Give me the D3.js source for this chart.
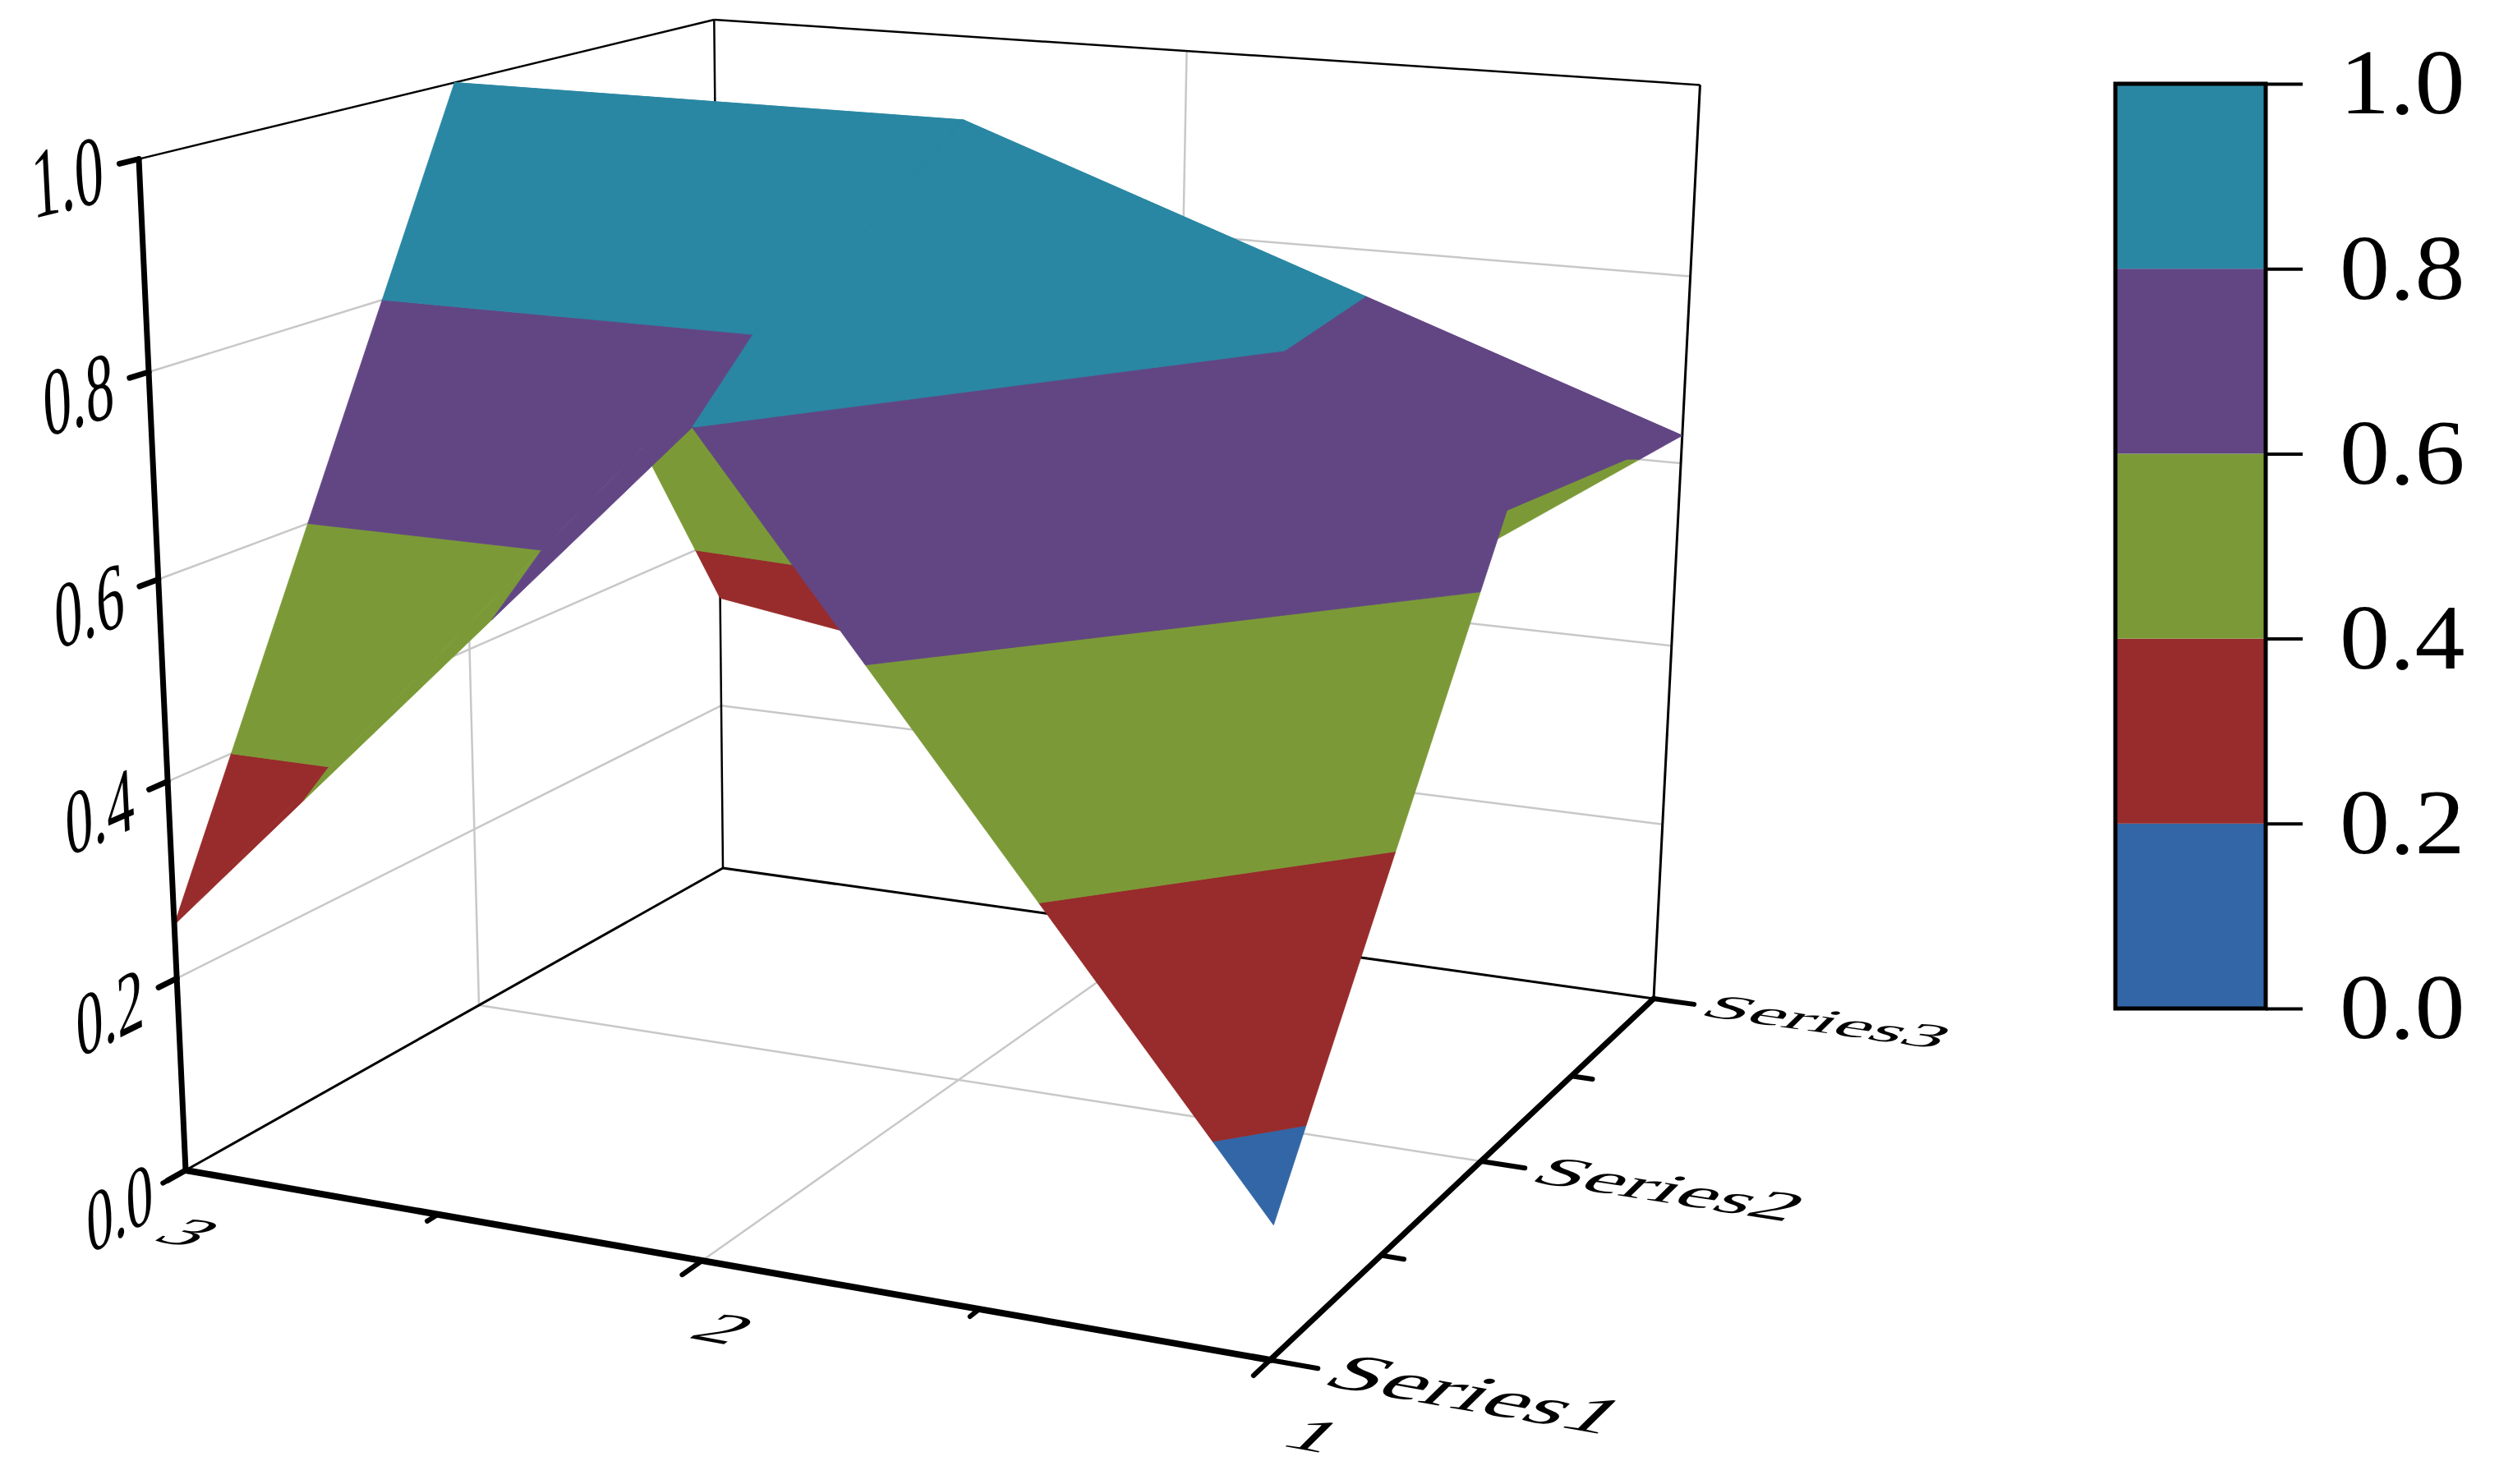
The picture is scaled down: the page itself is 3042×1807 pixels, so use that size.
<!DOCTYPE html>
<meta charset="utf-8">
<style>
body { margin: 0; background: #fff; }
text { font-family: "Liberation Serif", serif; fill: #000; }
</style>
<script src="https://d3js.org/d3.v7.min.js"></script>
<svg id="chart" width="3042" height="1807"></svg>
<script>
// surface values, one row per x (1, 2, 3), one column per series
var xValues = [1, 2, 3];
var seriesNames = ["Series1", "Series2", "Series3"];
var seriesValues = [1, 2, 3];
var zRow1 = [0.13, 0.665, 0.63];
var zRow2 = [0.80, 1.00, 0.25];
var zRow3 = [0.255, 1.00, 0.33];
var zRows = [zRow1, zRow2, zRow3];

var zTicks = [0, 0.2, 0.4, 0.6, 0.8, 1];
var bandColors = ["#3366a6", "#982b2b", "#7b9a37", "#624684", "#2a87a3"];

// where the box corners land on the page, used to fit the perspective
var floorA = [226, 1425], floorB = [1546, 1656], floorC = [2013, 1216], floorD = [880, 1057];
var topA = [170, 195], topC = [2070, 100], topD = [868, 26];

var svg = d3.select("#chart");

var xScale = d3.scaleLinear().domain([3, 1]).range([0, 1]);
var sScale = d3.scaleLinear().domain([1, 3]).range([0, 1]);

// square to quad, the floor of the box
function fitFloor(p0, p1, p2, p3) {
    var dx1 = p1[0] - p2[0], dx2 = p3[0] - p2[0], sx = p0[0] - p1[0] + p2[0] - p3[0];
    var dy1 = p1[1] - p2[1], dy2 = p3[1] - p2[1], sy = p0[1] - p1[1] + p2[1] - p3[1];
    var det = dx1 * dy2 - dx2 * dy1;
    var g = (sx * dy2 - dx2 * sy) / det;
    var h = (dx1 * sy - sx * dy1) / det;
    return {
        a: p1[0] - p0[0] + g * p1[0], b: p3[0] - p0[0] + h * p3[0], c: p0[0],
        d: p1[1] - p0[1] + g * p1[1], e: p3[1] - p0[1] + h * p3[1], f: p0[1],
        g: g, h: h
    };
}

var m = fitFloor(floorA, floorB, floorC, floorD);

// height column of the projection, least squares on the three top corners
var tops = [
    { u: 0, v: 0, pt: topA },
    { u: 1, v: 1, pt: topC },
    { u: 0, v: 1, pt: topD }
].map(function(t) {
    var w = m.g * t.u + m.h * t.v + 1;
    return {
        X: t.pt[0], Y: t.pt[1],
        A: t.pt[0] * w - (m.a * t.u + m.b * t.v + m.c),
        B: t.pt[1] * w - (m.d * t.u + m.e * t.v + m.f)
    };
});
var mX = d3.mean(tops, function(t) { return t.X; });
var mY = d3.mean(tops, function(t) { return t.Y; });
var mA = d3.mean(tops, function(t) { return t.A; });
var mB = d3.mean(tops, function(t) { return t.B; });
var r = -d3.sum(tops, function(t) { return (t.A - mA) * (t.X - mX) + (t.B - mB) * (t.Y - mY); }) /
    d3.sum(tops, function(t) { return (t.X - mX) * (t.X - mX) + (t.Y - mY) * (t.Y - mY); });
var p = mA + mX * r;
var q = mB + mY * r;

function project(pt) {
    var u = xScale(pt[0]), v = sScale(pt[1]), w = pt[2];
    var k = m.g * u + m.h * v + 1 + r * w;
    return [(m.a * u + m.b * v + m.c + p * w) / k, (m.d * u + m.e * v + m.f + q * w) / k];
}

function segment(g, from, to, color, width, cap) {
    var a = project(from), b = project(to);
    g.append("line")
        .attr("x1", a[0]).attr("y1", a[1])
        .attr("x2", b[0]).attr("y2", b[1])
        .attr("stroke", color)
        .attr("stroke-width", width)
        .attr("stroke-linecap", cap || "butt");
}

// text lying in a plane of the box
function planeText(g, text, origin, du, dv, anchor, baseY) {
    var o = project(origin);
    var a = project([origin[0] + du[0], origin[1] + du[1], origin[2] + du[2]]);
    var b = project([origin[0] + dv[0], origin[1] + dv[1], origin[2] + dv[2]]);
    g.append("text")
        .attr("font-size", 100)
        .attr("text-anchor", anchor)
        .attr("y", baseY)
        .attr("transform", "matrix(" + [(a[0] - o[0]) / 100, (a[1] - o[1]) / 100,
            (b[0] - o[0]) / 100, (b[1] - o[1]) / 100, o[0], o[1]].join(",") + ")")
        .text(text);
}

// gridlines on the two back walls and the floor
var grid = svg.append("g");
zTicks.slice(1, 5).forEach(function(z) {
    segment(grid, [3, 1, z], [3, 3, z], "#c8c8c8", 2.5);
    segment(grid, [3, 3, z], [1, 3, z], "#c8c8c8", 2.5);
});
segment(grid, [3, 2, 0], [3, 2, 1], "#c8c8c8", 2.5);
segment(grid, [2, 3, 0], [2, 3, 1], "#c8c8c8", 2.5);
segment(grid, [2, 1, 0], [2, 3, 0], "#c8c8c8", 2.5);
segment(grid, [3, 2, 0], [1, 2, 0], "#c8c8c8", 2.5);

// thin frame
var frame = svg.append("g");
segment(frame, [3, 1, 1], [3, 3, 1], "#000", 2.5);
segment(frame, [3, 3, 1], [1, 3, 1], "#000", 2.5);
segment(frame, [1, 3, 1], [1, 3, 0], "#000", 3);
segment(frame, [3, 3, 1], [3, 3, 0], "#000", 2.5);
segment(frame, [3, 3, 0], [3, 1, 0], "#000", 3);
segment(frame, [3, 3, 0], [1, 3, 0], "#000", 3);

// cut a triangle to the part between two heights
function clipAbove(poly, level, sign) {
    var out = [];
    poly.forEach(function(a, i) {
        var b = poly[(i + 1) % poly.length];
        var da = sign * (a[2] - level), db = sign * (b[2] - level);
        if (da >= 0) out.push(a);
        if ((da > 0 && db < 0) || (da < 0 && db > 0)) {
            var t = da / (da - db);
            out.push([a[0] + (b[0] - a[0]) * t, a[1] + (b[1] - a[1]) * t, a[2] + (b[2] - a[2]) * t]);
        }
    });
    return out;
}

function vertex(xi, si) {
    return [xValues[xi], seriesValues[si], zRows[xi][si]];
}

// back quads first, front ones last. each quad is split from (high x, low series) to (low x, high series)
var quadOrder = [[1, 1], [0, 1], [1, 0], [0, 0]];
var triangles = [];
quadOrder.forEach(function(c) {
    var xi = c[0], si = c[1];
    triangles.push([vertex(xi + 1, si), vertex(xi, si + 1), vertex(xi + 1, si + 1)]);
    triangles.push([vertex(xi + 1, si), vertex(xi, si), vertex(xi, si + 1)]);
});

var pieces = [];
triangles.forEach(function(tri) {
    bandColors.forEach(function(color, i) {
        var poly = clipAbove(clipAbove(tri, zTicks[i], 1), zTicks[i + 1], -1);
        if (poly.length > 2) pieces.push({ poly: poly, color: color });
    });
});

var pieceLine = d3.line().curve(d3.curveLinearClosed);
svg.append("g").selectAll("path")
    .data(pieces)
    .join("path")
    .attr("d", function(d) { return pieceLine(d.poly.map(project)); })
    .attr("fill", function(d) { return d.color; })
    .attr("stroke", function(d) { return d.color; })
    .attr("stroke-width", 0.8)
    .attr("stroke-linejoin", "round");

// front axes
var axes = svg.append("g");
segment(axes, [3, 1, 0], [3, 1, 1], "#000", 7, "round");
segment(axes, [3, 1, 0], [1, 1, 0], "#000", 8, "round");
segment(axes, [1, 1, 0], [1, 3, 0], "#000", 7, "round");

zTicks.forEach(function(z) {
    segment(axes, [3, 1, z], [3, 0.945, z], "#000", 7, "round");
    planeText(axes, z.toFixed(1), [3, 0.8, z], [0, 0.16, 0], [0, 0, -0.09], "middle", 34);
});

xValues.forEach(function(x) {
    segment(axes, [x, 1, 0], [x, 0.93, 0], "#000", 6, "round");
    planeText(axes, String(x), [x - 0.17, 0.75, 0], [-0.15, 0, 0], [0, -0.17, 0], "middle", 33);
});
[1.5, 2.5].forEach(function(x) {
    segment(axes, [x, 1, 0], [x, 0.965, 0], "#000", 6, "round");
});

seriesValues.forEach(function(s, i) {
    segment(axes, [1, s, 0], [0.92, s, 0], "#000", 6, "round");
    planeText(axes, seriesNames[i], [0.895, s - 0.06, 0], [-0.158, 0, 0], [0, -0.2, 0], "start", 0);
});
[1.5, 2.5].forEach(function(s) {
    segment(axes, [1, s, 0], [0.96, s, 0], "#000", 6, "round");
});

// colour scale
var barLeft = 2575, barRight = 2758;
var barY = d3.scaleLinear().domain([0, 1]).range([1228, 102]);
var bar = svg.append("g");
bandColors.forEach(function(color, i) {
    bar.append("rect")
        .attr("x", barLeft)
        .attr("y", barY(zTicks[i + 1]))
        .attr("width", barRight - barLeft)
        .attr("height", barY(zTicks[i]) - barY(zTicks[i + 1]))
        .attr("fill", color);
});
bar.append("rect")
    .attr("x", barLeft).attr("y", barY(1))
    .attr("width", barRight - barLeft).attr("height", barY(0) - barY(1))
    .attr("fill", "none").attr("stroke", "#000").attr("stroke-width", 5);

var barAxis = d3.axisRight(barY)
    .tickValues(zTicks)
    .tickFormat(d3.format(".1f"))
    .tickSize(45)
    .tickPadding(45);
var barAxisG = svg.append("g")
    .attr("transform", "translate(" + barRight + ",0)")
    .call(barAxis);
barAxisG.select(".domain").remove();
barAxisG.selectAll("line").attr("stroke", "#000").attr("stroke-width", 4);
barAxisG.selectAll("text")
    .attr("font-size", 112)
    .attr("font-family", "Liberation Serif")
    .attr("fill", "#000")
    .attr("transform", "translate(90,0) scale(1.09,1) translate(-90,0)");
</script>
